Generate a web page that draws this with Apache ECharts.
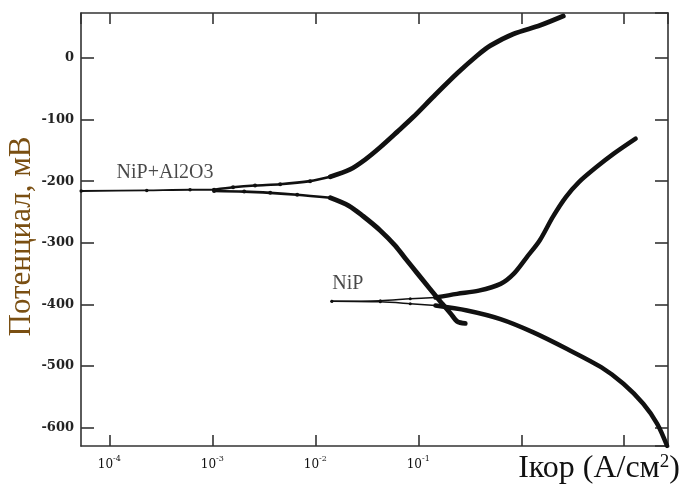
<!DOCTYPE html>
<html>
<head>
<meta charset="utf-8">
<script src="https://cdn.jsdelivr.net/npm/echarts@6/dist/echarts.min.js"></script>
<style>
html,body{margin:0;padding:0;background:#fff;}
#c{width:681px;height:484px;}
</style>
</head>
<body>
<div id="c"></div>
<script>
// ---- data (current in A/cm2, potential in mV) ----
// NiP+Al2O3
const alTipI = [5.33e-5, 2.31e-4, 6.08e-4, 1.04e-3];
const alTipE = [-216, -215, -214, -214];

const alAnodicEarlyI = [1.04e-3, 1.59e-3, 2.6e-3, 4.56e-3, 8.9e-3, 1.40e-2];
const alAnodicEarlyE = [-214, -210, -207, -205, -200, -193];
const alAnodicI = [1.40e-2, 2.18e-2, 3.05e-2, 4.27e-2, 6.25e-2, 8.93e-2, 0.140, 0.239, 0.374, 0.501, 0.838, 1.53, 2.56];
const alAnodicE = [-193, -181, -165, -145, -120, -96, -63, -25, 4, 20, 39, 53, 68];

const alCathodicEarlyI = [1.04e-3, 2.04e-3, 3.65e-3, 6.67e-3, 1.40e-2];
const alCathodicEarlyE = [-216, -217, -219, -222, -227];
const alCathodicI = [1.40e-2, 2.12e-2, 2.92e-2, 4.27e-2, 6.0e-2, 7.6e-2, 0.104, 0.163, 0.204, 0.239, 0.286];
const alCathodicE = [-227, -240, -257, -280, -305, -327, -355, -395, -414, -428, -431];

// NiP
const nipTipUpI = [1.45e-2, 4.28e-2, 8.36e-2, 0.147];
const nipTipUpE = [-395, -394, -391, -389];
const nipTipLowI = [1.45e-2, 4.28e-2, 8.36e-2, 0.147];
const nipTipLowE = [-395, -396, -399, -402];

const nipAnodicI = [0.147, 0.238, 0.387, 0.63, 0.843, 1.13, 1.51, 2.02, 2.71, 3.63, 5.37, 7.91, 12.9];
const nipAnodicE = [-389, -383, -377.7, -366.8, -350.6, -323.6, -296.4, -258.5, -226, -201.6, -177.2, -155.4, -131];

const nipCathodicI = [0.147, 0.297, 0.628, 1.31, 2.79, 5.96, 9.82, 15.3, 20.9, 26.1];
const nipCathodicE = [-402, -410, -424, -445.5, -472.5, -502, -529, -561.5, -594, -630];

const xMin = 5.31e-5, xMax = 26.6;
const yMin = -630, yMax = 73;

const labels = [
  {text: 'NiP+Al2O3', I: 3.47e-4, E: -187},
  {text: 'NiP', I: 2.07e-2, E: -367}
];

function zip(a, b) { return a.map((v, i) => [v, b[i]]); }

const chart = echarts.init(document.getElementById('c'), null, {renderer: 'canvas'});
const INK = '#111';
const AX = '#333';
const labelFont = 'DejaVu Serif';

function line(name, I, E, width, sym) {
  return {name, type: 'line', xAxisIndex: 0, yAxisIndex: 0, data: zip(I, E),
    showSymbol: !!sym, symbol: 'circle', symbolSize: sym || 0, itemStyle: {color: INK},
    smooth: 0.3,
    lineStyle: {color: INK, width: width, cap: 'round', join: 'round'}, z: 3, animation: false};
}

const axisLineStyle = {onZero: false, lineStyle: {color: AX, width: 1.6}};
const tickStyle = {inside: true, length: 11, lineStyle: {color: AX, width: 1.6}};

const option = {
  animation: false,
  backgroundColor: '#fff',
  grid: {left: 81, top: 13, width: 587, height: 433, containLabel: false, outerBoundsMode: 'none'},
  title: [{
    text: '{a|Iкор (A/см}{s|2}{a|)}',
    right: -4, top: 448,
    textStyle: {fontWeight: 'normal', rich: {
      a: {fontFamily: 'Liberation Serif', fontSize: 32, fontWeight: 'normal', color: '#111', lineHeight: 32, verticalAlign: 'bottom'},
      s: {fontFamily: 'Liberation Serif', fontSize: 19, fontWeight: 'normal', color: '#111', lineHeight: 32, verticalAlign: 'top'}
    }}
  }],
  xAxis: [{
    type: 'log', logBase: 10, min: xMin, max: xMax, splitNumber: 5,
    axisLine: {show: true, ...axisLineStyle}, axisTick: tickStyle, splitLine: {show: false}, minorTick: {show: false},
    axisLabel: {
      showMinLabel: false, showMaxLabel: false, margin: 9,
      formatter: function (v) {
        const e = Math.round(Math.log10(v));
        if (e >= 0) return '';
        return '{b|10}{s|' + e + '}';
      },
      rich: {
        b: {fontFamily: labelFont, fontSize: 12, color: '#111', lineHeight: 16, verticalAlign: 'bottom'},
        s: {fontFamily: labelFont, fontSize: 8, color: '#111', lineHeight: 16, verticalAlign: 'top'}
      }
    }
  }, {
    type: 'log', logBase: 10, min: xMin, max: xMax, splitNumber: 5, position: 'top',
    axisLine: {show: true, ...axisLineStyle}, axisTick: tickStyle, splitLine: {show: false},
    axisLabel: {show: false}
  }],
  yAxis: [{
    type: 'value', min: yMin, max: yMax, splitNumber: 7,
    axisLine: {show: true, ...axisLineStyle}, axisTick: {...tickStyle, length: 13}, splitLine: {show: false},
    axisLabel: {showMinLabel: false, showMaxLabel: false, margin: 7, fontFamily: labelFont, fontSize: 13, fontWeight: 'bold', color: '#222'},
    name: 'Потенциал, мВ', nameLocation: 'middle', nameGap: 44, nameRotate: 90, nameMoveOverlap: false,
    nameTextStyle: {fontFamily: 'Liberation Serif', fontSize: 31, color: '#7a4f12', padding: [0, 14, 0, 0]}
  }, {
    type: 'value', min: yMin, max: yMax, splitNumber: 7, position: 'right',
    axisLine: {show: true, ...axisLineStyle}, axisTick: {...tickStyle, length: 13}, splitLine: {show: false},
    axisLabel: {show: false}
  }],
  series: [
    line('NiP+Al2O3 tip', alTipI, alTipE, 1.8, 3.5),
    line('NiP+Al2O3 anodic early', alAnodicEarlyI, alAnodicEarlyE, 2.6, 4),
    line('NiP+Al2O3 anodic', alAnodicI, alAnodicE, 4.8, 0),
    line('NiP+Al2O3 cathodic early', alCathodicEarlyI, alCathodicEarlyE, 2.6, 4),
    line('NiP+Al2O3 cathodic', alCathodicI, alCathodicE, 4.8, 0),
    line('NiP tip up', nipTipUpI, nipTipUpE, 1.5, 3),
    line('NiP tip low', nipTipLowI, nipTipLowE, 1.5, 3),
    line('NiP anodic', nipAnodicI, nipAnodicE, 4.5, 0),
    line('NiP cathodic', nipCathodicI, nipCathodicE, 4.5, 0),
    {
      type: 'scatter', xAxisIndex: 0, yAxisIndex: 0, symbolSize: 0, silent: true,
      data: labels.map(l => ({value: [l.I, l.E], name: l.text})),
      label: {show: true, position: 'inside', formatter: p => p.name,
        fontFamily: 'Liberation Serif', fontSize: 20, color: '#1a1a1a'}
    }
  ]
};
chart.setOption(option);
</script>
</body>
</html>
